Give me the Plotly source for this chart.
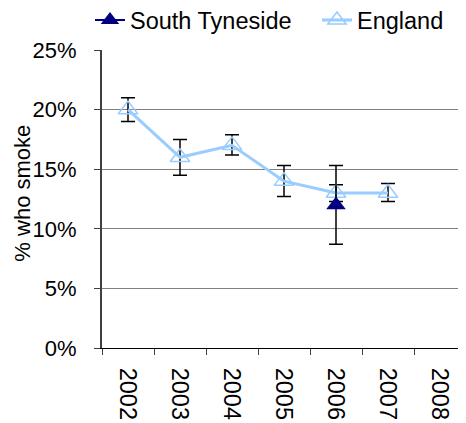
import plotly.graph_objects as go

years = ["2002", "2003", "2004", "2005", "2006", "2007", "2008"]

england = [0.20, 0.16, 0.17, 0.14, 0.13, 0.13, None]
england_err_plus = [0.010, 0.015, 0.009, 0.013, 0.007, 0.008, None]
england_err_minus = [0.010, 0.015, 0.008, 0.013, 0.007, 0.007, None]

south_tyneside = [None, None, None, None, 0.12, None, None]
st_err_plus = [None, None, None, None, 0.033, None, None]
st_err_minus = [None, None, None, None, 0.033, None, None]

FONT = "Liberation Sans, Arial, sans-serif"

fig = go.Figure()

fig.add_trace(go.Scatter(
    x=years,
    y=england,
    name="England",
    mode="lines+markers",
    line=dict(color="#99CCFF", width=3),
    marker=dict(symbol="triangle-up-open", size=17, color="#99CCFF", line=dict(width=1.5)),
    error_y=dict(type="data", array=england_err_plus, arrayminus=england_err_minus,
                 color="black", thickness=1.5, width=7),
    legendrank=2,
))

fig.add_trace(go.Scatter(
    x=years,
    y=south_tyneside,
    name="South Tyneside",
    mode="lines+markers",
    line=dict(color="#000080", width=2),
    marker=dict(symbol="triangle-up", size=17, color="#000080"),
    error_y=dict(type="data", array=st_err_plus, arrayminus=st_err_minus,
                 color="black", thickness=1.5, width=7),
    legendrank=1,
))

# y axis title as an annotation so it sits clear of the tick labels
fig.add_annotation(
    text="% who smoke",
    xref="paper", yref="paper",
    x=-0.258, y=0.52,
    xanchor="left", yanchor="middle",
    textangle=-90,
    showarrow=False,
    borderpad=0,
    font=dict(family=FONT, size=22, color="black"),
)

# the page body adds an 8px offset, so the figure is sized to fit the window
fig.update_layout(
    width=458,
    height=415,
    margin=dict(l=94, r=0, t=42, b=75, autoexpand=False),
    paper_bgcolor="white",
    plot_bgcolor="white",
    font=dict(family=FONT, size=23.5, color="black"),
    showlegend=True,
    legend=dict(orientation="h", x=-0.033, y=1.10, xanchor="left", yanchor="middle",
                font=dict(family=FONT, size=23.5), itemwidth=30, tracegroupgap=0,
                entrywidth=182, entrywidthmode="pixels", bgcolor="rgba(0,0,0,0)"),
    xaxis=dict(
        type="category",
        range=[-0.5, 6.5],
        tickangle=90,
        ticks="outside",
        tickson="boundaries",
        ticklen=6,
        tickcolor="#404040",
        ticklabelstandoff=14,
        showline=True,
        linecolor="black",
        linewidth=1,
        showgrid=False,
        zeroline=False,
        automargin=False,
    ),
    yaxis=dict(
        range=[0, 0.25],
        dtick=0.05,
        tickformat=".0%",
        tickfont=dict(family=FONT, size=22),
        ticks="outside",
        ticklen=6,
        tickcolor="#404040",
        ticklabelstandoff=13,
        showline=True,
        linecolor="#404040",
        linewidth=2,
        showgrid=True,
        gridcolor="#808080",
        gridwidth=1,
        zeroline=False,
        automargin=False,
    ),
)

fig.write_html("out.html")
